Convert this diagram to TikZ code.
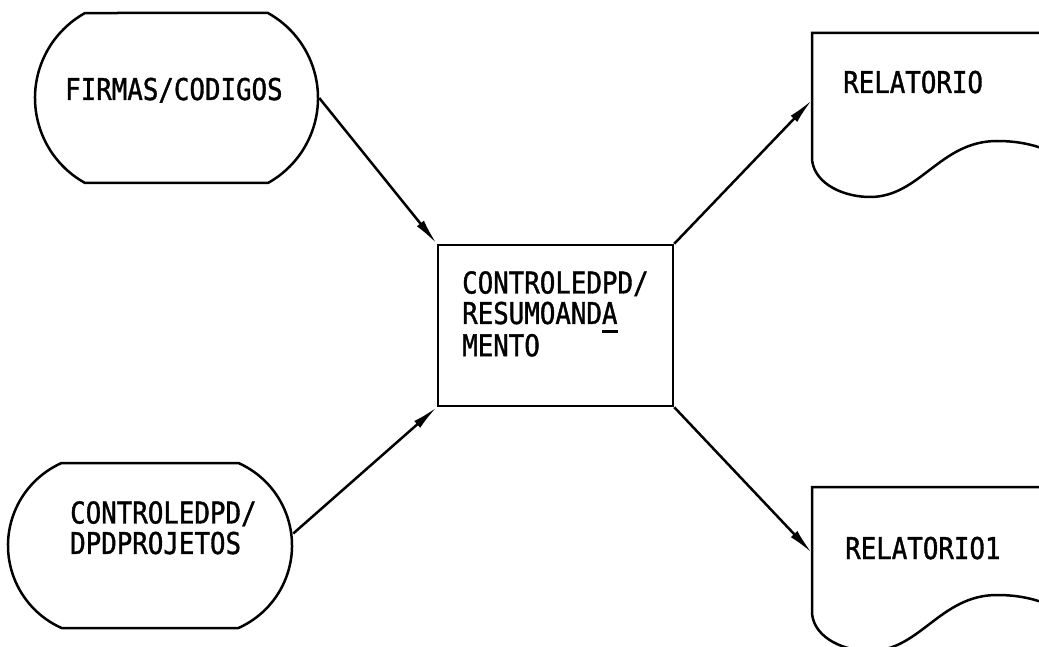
\documentclass[tikz,border=0pt]{standalone}
\usepackage{fontspec}
\newfontfamily\tw[FakeStretch=0.86,FakeBold=1.2]{DejaVu Sans Mono}
\usetikzlibrary{shapes.misc,arrows.meta}
\tikzset{
  ln/.style={line width=2.5pt},
  term/.style={ln, draw, rounded rectangle, inner sep=0pt},
  proc/.style={ln, draw, rectangle, inner sep=0pt},
  txt/.style={inner sep=0pt, align=left, font={\tw\fontsize{30}{30.5}\selectfont}},
  flow/.style={ln, -{Latex[length=26pt,width=9pt]}},
}
\begin{document}
\begin{tikzpicture}[x=1pt,y=-1pt]
\useasboundingbox (0,0) rectangle (1039,647);
\clip (0,0) rectangle (1039,647);
% terminals
\node[term, minimum width=283pt, minimum height=170pt, rounded rectangle arc length=122] (t1) at (176.5,98) {};
\node[txt, anchor=west, text height=22pt, text depth=0pt] (t1txt) at (65,89) {FIRMAS/CODIGOS};
\node[term, minimum width=284pt, minimum height=165pt, rounded rectangle arc length=132] (t2) at (150,545.5) {};
\node[txt, anchor=north west] (t2txt) at (70,501) {CONTROLEDPD/\\DPDPROJETOS};
% process
\node[proc, minimum width=235pt, minimum height=161pt] (p) at (555.5,325.5) {};
\node[txt, anchor=north west] (ptxt) at (462,271) {CONTROLEDPD/\\RESUMOAND\rlap{A}\rule[-9pt]{15.5pt}{2.5pt}\\MENTO};
% documents
\draw[ln] (1080,33) -- (812,33) -- (812,160) .. controls (815,185) and (845,197) .. (870,197)
  .. controls (920,197) and (940,141) .. (997,141) .. controls (1030,141) and (1050,150) .. (1080,165);
\node[txt, anchor=west, text height=22pt, text depth=0pt] (d1txt) at (843,82) {RELATORIO};
\coordinate (d1in) at (812,100);
\draw[ln] (1080,487) -- (812,487) -- (812,614) .. controls (815,639) and (845,651) .. (870,651)
  .. controls (920,651) and (940,595) .. (997,595) .. controls (1030,595) and (1050,604) .. (1080,619);
\node[txt, anchor=west, text height=22pt, text depth=0pt] (d2txt) at (845,548) {RELATORIO1};
\coordinate (d2in) at (812,553);
% connectors
\draw[flow] (t1.east) -- (p.north west);
\draw[flow] ([yshift=12pt]t2.east) -- (p.south west);
\draw[flow] (p.north east) -- (d1in);
\draw[flow] (p.south east) -- (d2in);
\end{tikzpicture}
\end{document}
